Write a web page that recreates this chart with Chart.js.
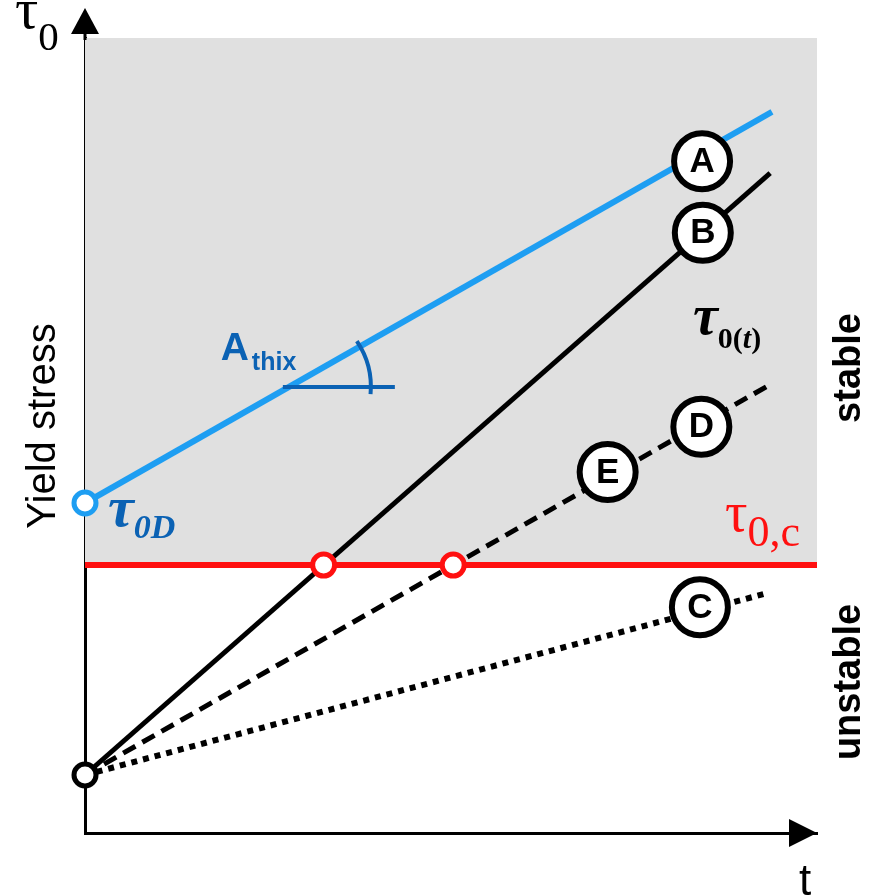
<!DOCTYPE html>
<html>
<head>
<meta charset="utf-8">
<script src="https://cdn.jsdelivr.net/npm/chart.js@4.4.0/dist/chart.umd.min.js"></script>
<style>
  body { margin: 0; background: #fff; }
  canvas { display: block; }
</style>
</head>
<body>
<canvas id="myChart" width="871" height="895"></canvas>
<script>
// values (t and tau0 in arbitrary units, 0..10)
var blueX = [0, 9.385];
var blueY = [4.15, 9.07];
var solidX = [0, 9.36];
var solidY = [0.73, 8.30];
var dashX = [0, 9.32];
var dashY = [0.73, 5.62];
var dotX = [0, 9.33];
var dotY = [0.73, 3.02];

var criticalX = [0, 10];
var criticalY = 3.37;
var crossX = [3.26, 5.03];

var startX = [0, 0];
var startY = [4.15, 0.73];

var labelText = ['A', 'B', 'D', 'E', 'C'];
var labelX = [8.43, 8.44, 8.42, 7.14, 8.40];
var labelY = [8.45, 7.55, 5.11, 4.54, 2.84];

var athixY = 5.61;

var blueColor = '#1e9ef2';
var darkBlue = '#0b62b4';
var redColor = '#ff1010';

function pts(xs, ys){
    let out = [];
    for (let i = 0; i < xs.length; i++) {
        out.push({x: xs[i], y: Array.isArray(ys) ? ys[i] : ys});
    }
    return out;
}

function drawTau(ctx, x, y, sub, tauFont, subFont, dy, color){
    ctx.fillStyle = color;
    ctx.font = tauFont;
    ctx.fillText('\u03C4', x, y);
    let w = ctx.measureText('\u03C4').width;
    let cx = x + w;
    sub.forEach(s => {
        ctx.font = s[1] || subFont;
        ctx.fillText(s[0], cx, y + dy);
        cx += ctx.measureText(s[0]).width;
    });
}

const extras = {
    id: 'extras',
    afterDatasetsDraw(chart){
        const ctx = chart.ctx;
        const xs = chart.scales.x;
        const ys = chart.scales.y;
        ctx.save();

        // letters in the circles
        ctx.fillStyle = '#000';
        ctx.font = 'bold 35px "Liberation Sans", Arial, sans-serif';
        ctx.textAlign = 'center';
        ctx.textBaseline = 'middle';
        for (let i = 0; i < labelText.length; i++) {
            ctx.fillText(labelText[i], xs.getPixelForValue(labelX[i]), ys.getPixelForValue(labelY[i]) + 1);
        }

        // angle marker on the blue line
        let xv = blueX[0] + (athixY - blueY[0]) * (blueX[1] - blueX[0]) / (blueY[1] - blueY[0]);
        let px = xs.getPixelForValue(xv);
        let py = ys.getPixelForValue(athixY);
        ctx.strokeStyle = darkBlue;
        ctx.lineWidth = 4;
        ctx.beginPath();
        ctx.moveTo(px - 6, py);
        ctx.lineTo(px + 106, py);
        ctx.stroke();
        ctx.beginPath();
        ctx.arc(px, py, 82, -34 * Math.PI / 180, 5 * Math.PI / 180);
        ctx.stroke();

        ctx.textAlign = 'left';
        ctx.textBaseline = 'alphabetic';
        ctx.fillStyle = darkBlue;
        ctx.font = 'bold 39px "Liberation Sans", Arial, sans-serif';
        ctx.fillText('A', px - 68, py - 27);
        ctx.font = 'bold 25px "Liberation Sans", Arial, sans-serif';
        ctx.fillText('thix', px - 37, py - 17);

        // tau labels
        let serif = '"Liberation Serif", "Times New Roman", serif';
        let bx = xs.getPixelForValue(startX[0]);
        let by = ys.getPixelForValue(startY[0]);
        drawTau(ctx, bx + 23, by + 23, [['0D']], 'italic bold 58px ' + serif, 'italic bold 34px ' + serif, 12, darkBlue);

        drawTau(ctx, 725, ys.getPixelForValue(criticalY) - 34, [['0,c']], '56px ' + serif, '44px ' + serif, 15, redColor);

        drawTau(ctx, 693, 334, [['0(', 'bold 30px ' + serif], ['t', 'italic bold 30px ' + serif], [')', 'bold 30px ' + serif]], 'italic bold 56px ' + serif, 'bold 30px ' + serif, 14, '#000');

        // axis name at the top
        drawTau(ctx, 15, 28, [['0']], '58px ' + serif, '41px ' + serif, 22, '#000');

        ctx.restore();
    },
    afterDraw(chart){
        const ctx = chart.ctx;
        const a = chart.chartArea;
        ctx.save();
        ctx.fillStyle = '#000';
        ctx.strokeStyle = '#000';
        ctx.lineWidth = 3;

        // y axis arrow
        ctx.beginPath();
        ctx.moveTo(a.left, a.top + 2);
        ctx.lineTo(a.left, 30);
        ctx.stroke();
        ctx.beginPath();
        ctx.moveTo(a.left, 8);
        ctx.lineTo(a.left - 14, 34);
        ctx.lineTo(a.left + 14, 34);
        ctx.closePath();
        ctx.fill();

        // x axis arrow
        ctx.beginPath();
        ctx.moveTo(a.right, a.bottom);
        ctx.lineTo(a.right - 28, a.bottom - 14);
        ctx.lineTo(a.right - 28, a.bottom + 14);
        ctx.closePath();
        ctx.fill();

        ctx.font = '44px "Liberation Sans", Arial, sans-serif';
        ctx.textAlign = 'center';
        ctx.fillText('t', 805, 895);

        // Yield stress
        ctx.save();
        ctx.translate(55, 426);
        ctx.rotate(-Math.PI / 2);
        ctx.font = '40px "Liberation Sans", Arial, sans-serif';
        ctx.textAlign = 'center';
        ctx.fillText('Yield stress', 0, 0);
        ctx.restore();

        // stable / unstable
        ctx.font = 'bold 38px "Liberation Sans", Arial, sans-serif';
        ctx.save();
        ctx.translate(860, 368);
        ctx.rotate(-Math.PI / 2);
        ctx.fillText('stable', 0, 0);
        ctx.restore();
        ctx.save();
        ctx.translate(860, 682);
        ctx.rotate(-Math.PI / 2);
        ctx.fillText('unstable', 0, 0);
        ctx.restore();

        ctx.restore();
    }
};

new Chart('myChart', {
    type: 'scatter',
    data: {
        datasets: [
            {
                label: 'labels',
                data: pts(labelX, labelY),
                pointRadius: 28,
                pointBorderWidth: 6,
                pointBackgroundColor: '#fff',
                pointBorderColor: '#000',
                clip: false,
                order: 0
            },
            {
                label: 'crossings',
                data: pts(crossX, criticalY),
                pointRadius: 11,
                pointBorderWidth: 5,
                pointBackgroundColor: '#fff',
                pointBorderColor: redColor,
                clip: false,
                order: 1
            },
            {
                label: 'start',
                data: pts(startX, startY),
                pointRadius: 11,
                pointBorderWidth: 5,
                pointBackgroundColor: '#fff',
                pointBorderColor: [blueColor, '#000'],
                clip: false,
                order: 1
            },
            {
                label: 'A',
                data: pts(blueX, blueY),
                showLine: true,
                borderColor: blueColor,
                borderWidth: 6,
                pointRadius: 0,
                order: 3
            },
            {
                label: 'B',
                data: pts(solidX, solidY),
                showLine: true,
                borderColor: '#000',
                borderWidth: 5,
                pointRadius: 0,
                order: 3
            },
            {
                label: 'D',
                data: pts(dashX, dashY),
                showLine: true,
                borderColor: '#000',
                borderWidth: 5,
                borderDash: [14, 8],
                pointRadius: 0,
                order: 3
            },
            {
                label: 'C',
                data: pts(dotX, dotY),
                showLine: true,
                borderColor: '#000',
                borderWidth: 6,
                borderDash: [6, 6],
                pointRadius: 0,
                order: 3
            },
            {
                label: 'critical',
                data: pts(criticalX, criticalY),
                showLine: true,
                borderColor: redColor,
                borderWidth: 6,
                fill: 'end',
                backgroundColor: '#e0e0e0',
                pointRadius: 0,
                order: 2
            }
        ]
    },
    options: {
        responsive: false,
        animation: false,
        layout: {
            padding: {left: 0, right: 54, top: 38, bottom: 0}
        },
        plugins: {
            legend: {display: false},
            tooltip: {enabled: false},
            filler: {drawTime: 'beforeDatasetsDraw'}
        },
        scales: {
            x: {
                type: 'linear',
                min: 0,
                max: 10,
                grid: {display: false},
                ticks: {display: false},
                border: {display: true, color: '#000', width: 3},
                afterFit: function(s){ s.height = 62; }
            },
            y: {
                type: 'linear',
                min: 0,
                max: 10,
                grid: {display: false},
                ticks: {display: false},
                border: {display: true, color: '#000', width: 3},
                afterFit: function(s){ s.width = 85; }
            }
        }
    },
    plugins: [extras]
});
</script>
</body>
</html>
